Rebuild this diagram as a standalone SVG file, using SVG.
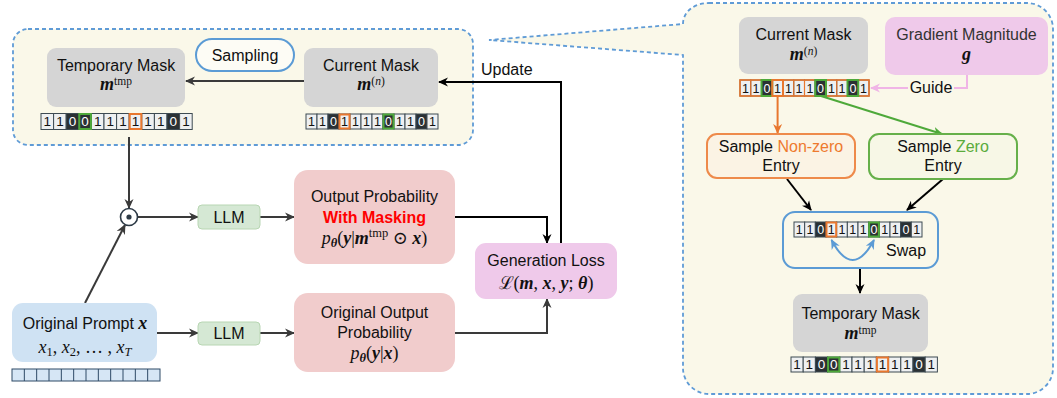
<svg xmlns="http://www.w3.org/2000/svg" width="1057" height="398" viewBox="0 0 1057 398">
<style>
.lbl{font-family:"Liberation Sans",Arial,sans-serif;font-size:16px;fill:#111;text-anchor:middle}
.math{font-family:"Liberation Serif","DejaVu Serif",serif;font-size:18px;fill:#111;text-anchor:middle}
.bi{font-style:italic;font-weight:bold}
.it{font-style:italic}
.sup{font-size:12.5px}
.sm{font-size:11.5px}
.gray{fill:#d5d5d5}
.pinkred{fill:#f1cccc}
.llm{fill:#d5e8d4;stroke:#b8d6b3;stroke-width:1}
.lilac{fill:#efc9ea}
.dash{fill:#faf8e9;stroke:#5f9bd6;stroke-width:1.8;stroke-dasharray:4 3}
.c1{fill:#eef0f1;stroke:#3d4a52;stroke-width:1}
.c0{fill:#2b3134;stroke:#3d4a52;stroke-width:1}
.ho{fill:none;stroke:#e8772e;stroke-width:2}
.hg{fill:none;stroke:#4ea93a;stroke-width:2}
.t1{font-family:"Liberation Sans",Arial,sans-serif;fill:#111;text-anchor:middle}
.t0{font-family:"Liberation Sans",Arial,sans-serif;fill:#fff;text-anchor:middle}
.a13 text{font-size:13.5px}
.a12 text{font-size:12.5px}
.ln{fill:none;stroke-width:2}
.g33{stroke:#3a3a3a}
.blk{stroke:#000}
</style>
<defs>
<marker id="mg" viewBox="0 0 10 10" refX="9" refY="5" markerWidth="10" markerHeight="10" markerUnits="userSpaceOnUse" orient="auto-start-reverse"><path d="M0,0.5 L10,5 L0,9.5 L3,5 z" fill="#3a3a3a"/></marker>
<marker id="mb" viewBox="0 0 10 10" refX="9" refY="5" markerWidth="10" markerHeight="10" markerUnits="userSpaceOnUse" orient="auto-start-reverse"><path d="M0,0.5 L10,5 L0,9.5 L3,5 z" fill="#000"/></marker>
<marker id="mo" viewBox="0 0 10 10" refX="9" refY="5" markerWidth="10" markerHeight="10" markerUnits="userSpaceOnUse" orient="auto-start-reverse"><path d="M0,0.5 L10,5 L0,9.5 L3,5 z" fill="#e8772e"/></marker>
<marker id="mgr" viewBox="0 0 10 10" refX="9" refY="5" markerWidth="10" markerHeight="10" markerUnits="userSpaceOnUse" orient="auto-start-reverse"><path d="M0,0.5 L10,5 L0,9.5 L3,5 z" fill="#4ea93a"/></marker>
<marker id="mp" viewBox="0 0 10 10" refX="9" refY="5" markerWidth="10" markerHeight="10" markerUnits="userSpaceOnUse" orient="auto-start-reverse"><path d="M0,0.5 L10,5 L0,9.5 L3,5 z" fill="#f0b5e6"/></marker>
<marker id="mbl" viewBox="0 0 10 10" refX="9" refY="5" markerWidth="10" markerHeight="10" markerUnits="userSpaceOnUse" orient="auto-start-reverse"><path d="M0,0.5 L10,5 L0,9.5 L3,5 z" fill="#5b9bd5"/></marker>
</defs>

<rect width="1057" height="398" fill="#fff"/>

<!-- containers -->
<g id="panel-left">
<rect class="dash" x="13" y="29" width="460" height="116" rx="15"/>
</g>
<g id="panel-right">
<path class="dash" d="M709,3 H1027 A26,26 0 0 1 1053,29 V368 A26,26 0 0 1 1027,394 H709 A26,26 0 0 1 683,368 V55 L489,40 L683,24 C683,12 694,3 709,3 Z"/>
</g>

<!-- connectors -->
<g id="connectors">
<line class="ln g33" x1="304" y1="81" x2="186" y2="81" marker-end="url(#mg)"/>
<polyline class="ln blk" points="561,243 561,82 439,82" marker-end="url(#mb)"/>
<line class="ln g33" x1="129" y1="137" x2="129" y2="208" marker-end="url(#mg)"/>
<line class="ln g33" x1="85" y1="303" x2="125" y2="225" marker-end="url(#mg)"/>
<line class="ln g33" x1="138" y1="217" x2="198" y2="217" marker-end="url(#mg)"/>
<line class="ln g33" x1="260" y1="217" x2="294" y2="217" marker-end="url(#mg)"/>
<line class="ln g33" x1="157" y1="333" x2="198" y2="333" marker-end="url(#mg)"/>
<line class="ln g33" x1="260" y1="333" x2="294" y2="333" marker-end="url(#mg)"/>
<polyline class="ln blk" points="455,217 547,217 547,243" marker-end="url(#mb)"/>
<polyline class="ln g33" points="455,333 547,333 547,299" marker-end="url(#mg)"/>
<line class="ln" stroke="#e8772e" x1="777.6" y1="96" x2="777.6" y2="133" marker-end="url(#mo)"/>
<line class="ln" stroke="#4ea93a" x1="821" y1="96" x2="942" y2="134" marker-end="url(#mgr)"/>
<polyline class="ln" stroke="#f0b5e6" points="967,75 967,88 871,88" marker-end="url(#mp)"/>
<line class="ln blk" x1="787" y1="179" x2="811" y2="210" marker-end="url(#mb)"/>
<line class="ln blk" x1="943" y1="179" x2="907" y2="210" marker-end="url(#mb)"/>
<line class="ln blk" x1="860" y1="268" x2="860" y2="293" marker-end="url(#mb)"/>
</g>

<text class="lbl" x="481" y="75" style="text-anchor:start">Update</text>

<!-- left panel nodes -->
<g id="sampling">
<rect x="196" y="39" width="98" height="32" rx="16" fill="#fdfcf5" stroke="#5b9bd5" stroke-width="2"/>
<text class="lbl" x="245" y="61">Sampling</text>
</g>
<g id="temp-mask-left">
<rect class="gray" x="47" y="48" width="138" height="59" rx="9"/>
<text class="lbl" x="116" y="70.5">Temporary Mask</text>
<text class="math" x="116" y="90"><tspan class="bi">m</tspan><tspan class="sm" dy="-5.5">tmp</tspan></text>
</g>
<g id="current-mask-left">
<rect class="gray" x="304" y="48" width="134" height="59" rx="9"/>
<text class="lbl" x="371" y="70.5">Current Mask</text>
<text class="math" x="371" y="90"><tspan class="bi">m</tspan><tspan class="sm" dy="-5.5">(<tspan class="it">n</tspan>)</tspan></text>
</g>

<g id="array-temp-left" class="a13">
<rect class="c1" x="41" y="113.5" width="12.6" height="16"/><rect class="c1" x="53.6" y="113.5" width="12.6" height="16"/><rect class="c0" x="66.2" y="113.5" width="12.6" height="16"/><rect class="c0" x="78.8" y="113.5" width="12.6" height="16"/><rect class="c1" x="91.4" y="113.5" width="12.6" height="16"/><rect class="c1" x="104" y="113.5" width="12.6" height="16"/><rect class="c1" x="116.6" y="113.5" width="12.6" height="16"/><rect class="c1" x="129.2" y="113.5" width="12.6" height="16"/><rect class="c1" x="141.8" y="113.5" width="12.6" height="16"/><rect class="c1" x="154.4" y="113.5" width="12.6" height="16"/><rect class="c0" x="167" y="113.5" width="12.6" height="16"/><rect class="c1" x="179.6" y="113.5" width="12.6" height="16"/>
<rect class="hg" x="79.3" y="114" width="11.6" height="15"/><rect class="ho" x="129.7" y="114" width="11.6" height="15"/>
<text class="t1" x="47.3" y="126.4">1</text><text class="t1" x="59.9" y="126.4">1</text><text class="t0" x="72.5" y="126.4">0</text><text class="t0" x="85.1" y="126.4">0</text><text class="t1" x="97.7" y="126.4">1</text><text class="t1" x="110.3" y="126.4">1</text><text class="t1" x="122.9" y="126.4">1</text><text class="t1" x="135.5" y="126.4">1</text><text class="t1" x="148.1" y="126.4">1</text><text class="t1" x="160.7" y="126.4">1</text><text class="t0" x="173.3" y="126.4">0</text><text class="t1" x="185.9" y="126.4">1</text>
</g>

<g id="array-current-left" class="a12">
<rect class="c1" x="306" y="114" width="11" height="15"/><rect class="c1" x="317" y="114" width="11" height="15"/><rect class="c0" x="328" y="114" width="11" height="15"/><rect class="c1" x="339" y="114" width="11" height="15"/><rect class="c1" x="350" y="114" width="11" height="15"/><rect class="c1" x="361" y="114" width="11" height="15"/><rect class="c1" x="372" y="114" width="11" height="15"/><rect class="c0" x="383" y="114" width="11" height="15"/><rect class="c1" x="394" y="114" width="11" height="15"/><rect class="c1" x="405" y="114" width="11" height="15"/><rect class="c0" x="416" y="114" width="11" height="15"/><rect class="c1" x="427" y="114" width="11" height="15"/>
<rect class="ho" x="339.5" y="114.5" width="10" height="14"/><rect class="hg" x="383.5" y="114.5" width="10" height="14"/>
<text class="t1" x="311.5" y="126">1</text><text class="t1" x="322.5" y="126">1</text><text class="t0" x="333.5" y="126">0</text><text class="t1" x="344.5" y="126">1</text><text class="t1" x="355.5" y="126">1</text><text class="t1" x="366.5" y="126">1</text><text class="t1" x="377.5" y="126">1</text><text class="t0" x="388.5" y="126">0</text><text class="t1" x="399.5" y="126">1</text><text class="t1" x="410.5" y="126">1</text><text class="t0" x="421.5" y="126">0</text><text class="t1" x="432.5" y="126">1</text>
</g>

<g id="odot">
<circle cx="129" cy="217" r="8.5" fill="#fff" stroke="#2d3a46" stroke-width="1.6"/>
<circle cx="129" cy="217" r="2.6" fill="#2d3a46"/>
</g>

<g id="llm-1">
<rect class="llm" x="198" y="205" width="62" height="24" rx="4"/>
<text class="lbl" x="229" y="223">LLM</text>
</g>
<g id="llm-2">
<rect class="llm" x="198" y="322" width="62" height="23" rx="4"/>
<text class="lbl" x="229" y="339">LLM</text>
</g>

<g id="output-prob-masked">
<rect class="pinkred" x="294" y="170" width="161" height="94" rx="14"/>
<text class="lbl" x="374.5" y="202">Output Probability</text>
<text class="lbl" x="374.5" y="223" style="fill:#ff0000;font-weight:bold">With Masking</text>
<text class="math" x="374.5" y="244"><tspan class="it">p</tspan><tspan class="bi sup" dy="3">θ</tspan><tspan dy="-3">(</tspan><tspan class="bi">y</tspan>|<tspan class="bi">m</tspan><tspan class="sup" dy="-7">tmp</tspan><tspan dy="7"> ⊙ </tspan><tspan class="bi">x</tspan>)</text>
</g>

<g id="output-prob-original">
<rect class="pinkred" x="294" y="293" width="161" height="79" rx="14"/>
<text class="lbl" x="374.5" y="318">Original Output</text>
<text class="lbl" x="374.5" y="338">Probability</text>
<text class="math" x="374.5" y="359"><tspan class="it">p</tspan><tspan class="bi sup" dy="3">θ</tspan><tspan dy="-3">(</tspan><tspan class="bi">y</tspan>|<tspan class="bi">x</tspan>)</text>
</g>

<g id="generation-loss">
<rect class="lilac" x="475" y="243" width="142" height="56" rx="11"/>
<text class="lbl" x="546" y="266">Generation Loss</text>
<text class="math" x="546" y="289">ℒ(<tspan class="bi">m</tspan>, <tspan class="bi">x</tspan>, <tspan class="bi">y</tspan>; <tspan class="bi">θ</tspan>)</text>
</g>

<g id="original-prompt">
<rect x="12" y="303" width="145" height="59" rx="11" fill="#cfe2f3"/>
<text class="lbl" x="85" y="329">Original Prompt <tspan class="math bi">x</tspan></text>
<text class="math" x="85" y="353"><tspan class="it">x</tspan><tspan class="sup" dy="3">1</tspan><tspan dy="-3">, </tspan><tspan class="it">x</tspan><tspan class="sup" dy="3">2</tspan><tspan dy="-3">, … , </tspan><tspan class="it">x</tspan><tspan class="sup it" dy="3">T</tspan></text>
<rect x="12" y="369" width="148" height="12" fill="#d6e6f5" stroke="#2e4a66" stroke-width="1"/>
<path d="M24.33,369V381M36.67,369V381M49,369V381M61.33,369V381M73.67,369V381M86,369V381M98.33,369V381M110.67,369V381M123,369V381M135.33,369V381M147.67,369V381" stroke="#2e4a66" stroke-width="1"/>
</g>

<!-- right panel nodes -->
<g id="current-mask-right">
<rect class="gray" x="739" y="17" width="129" height="57" rx="9"/>
<text class="lbl" x="803.5" y="39.5">Current Mask</text>
<text class="math" x="803.5" y="60"><tspan class="bi">m</tspan><tspan class="sm" dy="-5.5">(<tspan class="it">n</tspan>)</tspan></text>
</g>
<g id="gradient-magnitude">
<rect class="lilac" x="885" y="17" width="163" height="58" rx="10"/>
<text class="lbl" x="966.5" y="39.5" style="fill:#333">Gradient Magnitude</text>
<text class="math bi" x="966.5" y="60">g</text>
</g>
<rect x="908" y="80" width="46" height="16" fill="#faf8e9"/>
<text class="lbl" x="931" y="93">Guide</text>

<g id="array-current-right" class="a12">
<rect class="c1" x="740" y="80" width="10.75" height="16"/><rect class="c1" x="750.75" y="80" width="10.75" height="16"/><rect class="c0" x="761.5" y="80" width="10.75" height="16"/><rect class="c1" x="772.25" y="80" width="10.75" height="16"/><rect class="c1" x="783" y="80" width="10.75" height="16"/><rect class="c1" x="793.75" y="80" width="10.75" height="16"/><rect class="c1" x="804.5" y="80" width="10.75" height="16"/><rect class="c0" x="815.25" y="80" width="10.75" height="16"/><rect class="c1" x="826" y="80" width="10.75" height="16"/><rect class="c1" x="836.75" y="80" width="10.75" height="16"/><rect class="c0" x="847.5" y="80" width="10.75" height="16"/><rect class="c1" x="858.25" y="80" width="10.75" height="16"/>
<rect x="740" y="80" width="129" height="16" fill="none" stroke="#e8772e" stroke-width="1.6"/>
<path d="M750.75,80V96M783,80V96M793.75,80V96M804.5,80V96M836.75,80V96" stroke="#e8772e" stroke-width="1.2"/>
<rect class="hg" x="761.5" y="80" width="10.75" height="16" stroke-width="1.6"/>
<rect class="ho" x="772.25" y="80" width="10.75" height="16" stroke-width="2.2"/>
<rect class="hg" x="815.25" y="80" width="10.75" height="16" stroke-width="2.2"/>
<rect class="hg" x="847.5" y="80" width="10.75" height="16" stroke-width="1.6"/>
<text class="t1" x="745.4" y="92.5">1</text><text class="t1" x="756.1" y="92.5">1</text><text class="t0" x="766.9" y="92.5">0</text><text class="t1" x="777.6" y="92.5">1</text><text class="t1" x="788.4" y="92.5">1</text><text class="t1" x="799.1" y="92.5">1</text><text class="t1" x="809.9" y="92.5">1</text><text class="t0" x="820.6" y="92.5">0</text><text class="t1" x="831.4" y="92.5">1</text><text class="t1" x="842.1" y="92.5">1</text><text class="t0" x="852.9" y="92.5">0</text><text class="t1" x="863.6" y="92.5">1</text>
</g>

<g id="sample-nonzero">
<rect x="707" y="134" width="148" height="44" rx="10" fill="#fbf3e4" stroke="#ee8a4a" stroke-width="2"/>
<text class="lbl" x="781" y="152">Sample <tspan style="fill:#ee7a2e">Non-zero</tspan></text>
<text class="lbl" x="781" y="171">Entry</text>
</g>
<g id="sample-zero">
<rect x="869" y="134" width="148" height="45" rx="10" fill="#f7f7e6" stroke="#66b04a" stroke-width="2"/>
<text class="lbl" x="943" y="152">Sample <tspan style="fill:#5aab3c">Zero</tspan></text>
<text class="lbl" x="943" y="171">Entry</text>
</g>

<g id="swap">
<rect x="783" y="212" width="155" height="56" rx="12" fill="#faf8e9" stroke="#5b9bd5" stroke-width="2"/>
<g class="a12">
<rect class="c1" x="794" y="222" width="10.67" height="15"/><rect class="c1" x="804.67" y="222" width="10.67" height="15"/><rect class="c0" x="815.33" y="222" width="10.67" height="15"/><rect class="c1" x="826" y="222" width="10.67" height="15"/><rect class="c1" x="836.67" y="222" width="10.67" height="15"/><rect class="c1" x="847.33" y="222" width="10.67" height="15"/><rect class="c1" x="858" y="222" width="10.67" height="15"/><rect class="c0" x="868.67" y="222" width="10.67" height="15"/><rect class="c1" x="879.33" y="222" width="10.67" height="15"/><rect class="c1" x="890" y="222" width="10.67" height="15"/><rect class="c0" x="900.67" y="222" width="10.67" height="15"/><rect class="c1" x="911.33" y="222" width="10.67" height="15"/>
<rect class="ho" x="826.5" y="222.5" width="9.67" height="14"/><rect class="hg" x="869.17" y="222.5" width="9.67" height="14"/>
<text class="t1" x="799.3" y="233.8">1</text><text class="t1" x="810" y="233.8">1</text><text class="t0" x="820.7" y="233.8">0</text><text class="t1" x="831.3" y="233.8">1</text><text class="t1" x="842" y="233.8">1</text><text class="t1" x="852.7" y="233.8">1</text><text class="t1" x="863.3" y="233.8">1</text><text class="t0" x="874" y="233.8">0</text><text class="t1" x="884.7" y="233.8">1</text><text class="t1" x="895.3" y="233.8">1</text><text class="t0" x="906" y="233.8">0</text><text class="t1" x="916.7" y="233.8">1</text>
</g>
<path class="ln" stroke="#5b9bd5" d="M831.5,240 Q852.7,280 874,240" marker-start="url(#mbl)" marker-end="url(#mbl)"/>
<text class="lbl" x="886" y="256" style="text-anchor:start">Swap</text>
</g>

<g id="temp-mask-right">
<rect class="gray" x="793" y="294" width="135" height="58" rx="9"/>
<text class="lbl" x="860.5" y="318.5">Temporary Mask</text>
<text class="math" x="860.5" y="339"><tspan class="bi">m</tspan><tspan class="sm" dy="-5.5">tmp</tspan></text>
</g>
<g id="array-temp-right" class="a13">
<rect class="c1" x="791" y="357" width="12.2" height="15"/><rect class="c1" x="803.2" y="357" width="12.2" height="15"/><rect class="c0" x="815.4" y="357" width="12.2" height="15"/><rect class="c0" x="827.6" y="357" width="12.2" height="15"/><rect class="c1" x="839.8" y="357" width="12.2" height="15"/><rect class="c1" x="852" y="357" width="12.2" height="15"/><rect class="c1" x="864.2" y="357" width="12.2" height="15"/><rect class="c1" x="876.4" y="357" width="12.2" height="15"/><rect class="c1" x="888.6" y="357" width="12.2" height="15"/><rect class="c1" x="900.8" y="357" width="12.2" height="15"/><rect class="c0" x="913" y="357" width="12.2" height="15"/><rect class="c1" x="925.2" y="357" width="12.2" height="15"/>
<rect class="hg" x="828.1" y="357.5" width="11.2" height="14"/><rect class="ho" x="876.9" y="357.5" width="11.2" height="14"/>
<text class="t1" x="797.1" y="369.2">1</text><text class="t1" x="809.3" y="369.2">1</text><text class="t0" x="821.5" y="369.2">0</text><text class="t0" x="833.7" y="369.2">0</text><text class="t1" x="845.9" y="369.2">1</text><text class="t1" x="858.1" y="369.2">1</text><text class="t1" x="870.3" y="369.2">1</text><text class="t1" x="882.5" y="369.2">1</text><text class="t1" x="894.7" y="369.2">1</text><text class="t1" x="906.9" y="369.2">1</text><text class="t0" x="919.1" y="369.2">0</text><text class="t1" x="931.3" y="369.2">1</text>
</g>
</svg>
